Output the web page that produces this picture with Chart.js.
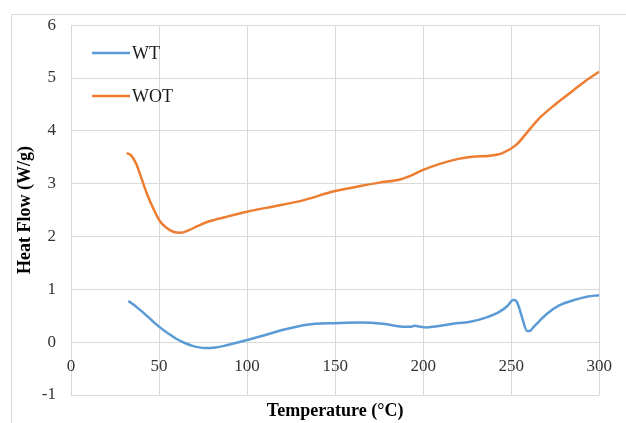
<!DOCTYPE html>
<html>
<head>
<meta charset="utf-8">
<script src="https://cdn.jsdelivr.net/npm/chart.js@4.4.0/dist/chart.umd.min.js"></script>
<style>
  html, body { margin: 0; padding: 0; background: #fff; }
  #wrap { width: 626px; height: 423px; }
</style>
</head>
<body>
<div id="wrap"><canvas id="chart" width="626" height="423"></canvas></div>
<script>
// values
const wtTemp = [32.5, 36, 41, 46, 50.5, 55, 60, 65, 69, 76, 82, 87, 93, 100, 110, 120, 134, 149, 164, 177, 190, 193, 195, 197, 202, 208, 217, 226, 236, 243, 248, 251, 252.5, 254, 256.5, 259, 260.5, 262.5, 266, 270, 277, 287, 293, 300];
const wtFlow = [0.78, 0.70, 0.56, 0.41, 0.28, 0.17, 0.06, -0.02, -0.07, -0.11, -0.10, -0.07, -0.02, 0.04, 0.13, 0.23, 0.33, 0.36, 0.37, 0.35, 0.29, 0.29, 0.31, 0.30, 0.28, 0.30, 0.35, 0.38, 0.47, 0.57, 0.69, 0.80, 0.79, 0.70, 0.43, 0.21, 0.21, 0.28, 0.40, 0.53, 0.69, 0.81, 0.86, 0.89];

const wotTemp = [31.6, 34, 37, 39, 43, 47, 50.5, 54, 58, 62, 67, 72, 77, 88, 100, 115, 130, 150, 165, 175, 187, 192, 200, 209, 220, 228, 238, 245, 253, 260, 266, 275, 285, 292, 300];
const wotFlow = [3.58, 3.54, 3.38, 3.20, 2.82, 2.51, 2.29, 2.17, 2.09, 2.07, 2.12, 2.20, 2.27, 2.37, 2.47, 2.57, 2.67, 2.86, 2.96, 3.02, 3.08, 3.14, 3.26, 3.37, 3.47, 3.51, 3.53, 3.58, 3.74, 4.01, 4.24, 4.50, 4.76, 4.94, 5.12];

const seriesNames = ['WT', 'WOT'];
const seriesColors = ['#5b9bd5', '#ed7d31'];
const xTicks = [0, 50, 100, 150, 200, 250, 300];
const yTicks = [-1, 0, 1, 2, 3, 4, 5, 6];

const serif = '"Liberation Serif", "Times New Roman", serif';
const gridColor = '#d9d9d9';

function toPoints(xs, ys) {
    return xs.map((x, i) => ({ x: x, y: ys[i] }));
}

// light frame around the whole chart, like the Excel chart border
const framePlugin = {
    id: 'frame',
    beforeDraw(chart) {
        const ctx = chart.ctx;
        ctx.save();
        ctx.strokeStyle = gridColor;
        ctx.lineWidth = 1;
        ctx.strokeRect(11.5, 14.5, 800, 600);
        ctx.restore();
    }
};

// legend stacked inside the plot, top-left
const insideLegend = {
    id: 'insideLegend',
    afterDraw(chart) {
        const ctx = chart.ctx;
        ctx.save();
        ctx.font = '18px ' + serif;
        ctx.textBaseline = 'middle';
        chart.data.datasets.forEach((ds, i) => {
            const y = 53 + i * 43;
            ctx.strokeStyle = ds.borderColor;
            ctx.lineWidth = 2.5;
            ctx.beginPath();
            ctx.moveTo(92, y);
            ctx.lineTo(130, y);
            ctx.stroke();
            ctx.fillStyle = '#1a1a1a';
            ctx.fillText(ds.label, 132, y + 1);
        });
        ctx.restore();
    }
};

const ctx = document.getElementById('chart').getContext('2d');
new Chart(ctx, {
    type: 'line',
    data: {
        datasets: [
            { label: seriesNames[0], data: toPoints(wtTemp, wtFlow), borderColor: seriesColors[0] },
            { label: seriesNames[1], data: toPoints(wotTemp, wotFlow), borderColor: seriesColors[1] }
        ]
    },
    options: {
        responsive: false,
        animation: false,
        layout: { padding: { top: 25, right: 26, bottom: 0, left: 0 } },
        elements: {
            point: { radius: 0 },
            line: { borderWidth: 2.5, cubicInterpolationMode: 'monotone', fill: false }
        },
        plugins: {
            legend: { display: false },
            tooltip: { enabled: false }
        },
        scales: {
            x: {
                type: 'linear',
                position: { y: 0 },
                min: 0,
                max: 300,
                afterBuildTicks(scale) { scale.ticks = xTicks.map(v => ({ value: v })); },
                afterFit(scale) { scale.height = 0; },
                grid: { color: gridColor, drawTicks: false },
                border: { display: false },
                ticks: { padding: 14, color: '#333', font: { family: serif, size: 17 } }
            },
            xTitle: {
                type: 'linear',
                position: 'bottom',
                min: 0,
                max: 300,
                afterFit(scale) { scale.height = 28; },
                grid: { display: false, drawTicks: false },
                border: { display: false },
                ticks: { display: false },
                title: {
                    display: true,
                    text: 'Temperature (°C)',
                    color: '#000',
                    padding: { top: 0, bottom: 1 },
                    font: { family: serif, size: 18, weight: 'bold' }
                }
            },
            y: {
                min: -1,
                max: 6,
                afterBuildTicks(scale) { scale.ticks = yTicks.map(v => ({ value: v })); },
                afterFit(scale) { scale.width = 71; },
                grid: { color: gridColor, drawTicks: false },
                border: { display: false },
                ticks: { padding: 15, color: '#333', font: { family: serif, size: 17 } },
                title: {
                    display: true,
                    text: 'Heat Flow (W/g)',
                    color: '#000',
                    padding: { top: 15, bottom: 0 },
                    font: { family: serif, size: 18, weight: 'bold' }
                }
            }
        }
    },
    plugins: [framePlugin, insideLegend]
});
</script>
</body>
</html>
